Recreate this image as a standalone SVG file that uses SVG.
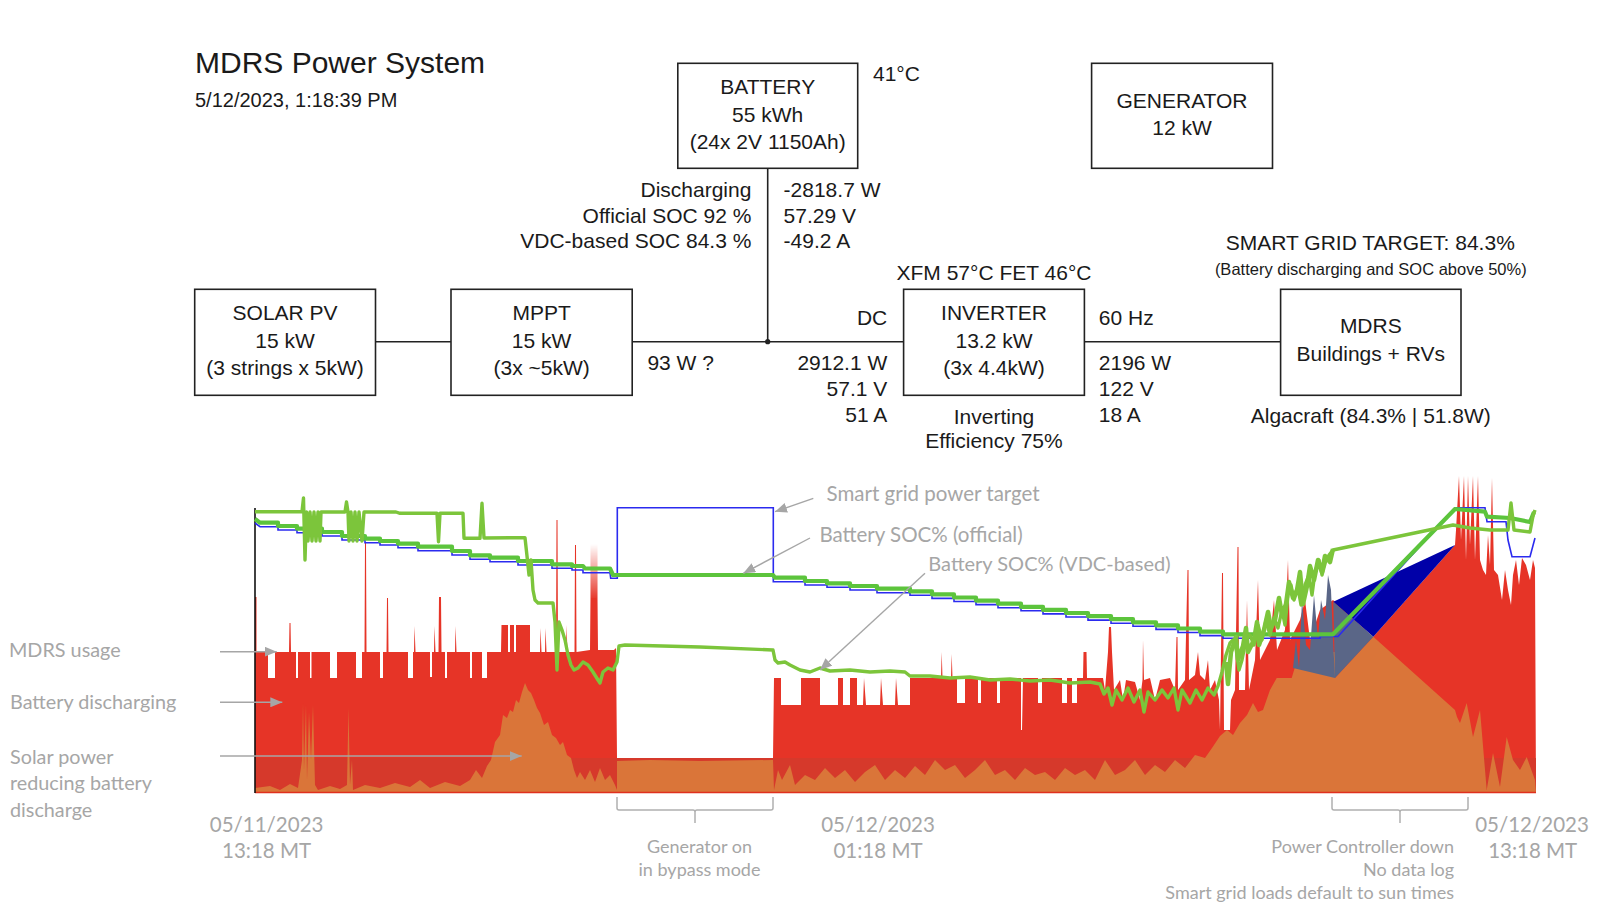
<svg xmlns="http://www.w3.org/2000/svg" width="1600" height="915" viewBox="0 0 1600 915">
<defs>
<style>
.t{font-family:"Liberation Sans",Arial,sans-serif;font-size:21px;fill:#1a1a1a}
.m{text-anchor:middle}
.e{text-anchor:end}
.box{fill:#fff;stroke:#222;stroke-width:1.6}
.wire{stroke:#222;stroke-width:1.6;fill:none}
.g{font-family:Lato,"Open Sans",sans-serif;font-size:20.5px;fill:#a6a6a6}
.gl{font-size:19.8px}
.gs{font-family:Lato,"Open Sans",sans-serif;font-size:18px;fill:#a6a6a6}
.lead{stroke:#a6a6a6;stroke-width:1.4;fill:none}
.brk{stroke:#b0b0b0;stroke-width:1.5;fill:none}
</style>
<marker id="ah" markerUnits="userSpaceOnUse" markerWidth="12" markerHeight="10" refX="12" refY="5" orient="auto">
<path d="M0,0 L12,5 L0,10 z" fill="#a6a6a6"/>
</marker>
</defs>
<rect width="1600" height="915" fill="#fff"/>

<g id="title">
<text class="t" x="195" y="72.5" style="font-size:30px">MDRS Power System</text>
<text class="t" x="195" y="106.5" style="font-size:20px">5/12/2023, 1:18:39 PM</text>
</g>

<g id="connectors">
<line class="wire" x1="375.5" y1="341.7" x2="451" y2="341.7"/>
<line class="wire" x1="632.2" y1="341.7" x2="903.6" y2="341.7"/>
<line class="wire" x1="767.7" y1="168.3" x2="767.7" y2="341.7"/>
<line class="wire" x1="1084.4" y1="341.7" x2="1280.6" y2="341.7"/>
<circle cx="767.7" cy="341.7" r="2.6" fill="#222"/>
</g>

<g id="battery">
<rect class="box" x="677.8" y="63.3" width="179.9" height="105"/>
<text class="t m" x="767.7" y="93.7">BATTERY</text>
<text class="t m" x="767.7" y="121.5">55 kWh</text>
<text class="t m" x="767.7" y="149.3">(24x 2V 1150Ah)</text>
<text class="t" x="873" y="80.7">41°C</text>
<text class="t e" x="751.4" y="197.3">Discharging</text>
<text class="t e" x="751.4" y="222.5">Official SOC 92 %</text>
<text class="t e" x="751.4" y="247.7">VDC-based SOC 84.3 %</text>
<text class="t" x="783.6" y="197.3">-2818.7 W</text>
<text class="t" x="783.6" y="222.5">57.29 V</text>
<text class="t" x="783.6" y="247.7">-49.2 A</text>
</g>

<g id="generator">
<rect class="box" x="1091.6" y="63.3" width="180.9" height="105"/>
<text class="t m" x="1182" y="107.5">GENERATOR</text>
<text class="t m" x="1182" y="134.7">12 kW</text>
</g>

<g id="solar">
<rect class="box" x="194.7" y="289.3" width="180.8" height="106"/>
<text class="t m" x="285.1" y="320.2">SOLAR PV</text>
<text class="t m" x="285.1" y="347.6">15 kW</text>
<text class="t m" x="285.1" y="375.2">(3 strings x 5kW)</text>
</g>

<g id="mppt">
<rect class="box" x="451" y="289.3" width="181.2" height="106"/>
<text class="t m" x="541.6" y="320.2">MPPT</text>
<text class="t m" x="541.6" y="347.6">15 kW</text>
<text class="t m" x="541.6" y="375.2">(3x ~5kW)</text>
<text class="t" x="647.4" y="370">93 W ?</text>
</g>

<g id="inverter">
<rect class="box" x="903.6" y="289.3" width="180.8" height="106"/>
<text class="t m" x="994" y="320.2">INVERTER</text>
<text class="t m" x="994" y="347.6">13.2 kW</text>
<text class="t m" x="994" y="375.2">(3x 4.4kW)</text>
<text class="t m" x="994" y="280">XFM 57°C FET 46°C</text>
<text class="t m" x="994" y="423.5">Inverting</text>
<text class="t m" x="994" y="448.3">Efficiency 75%</text>
<text class="t e" x="887.3" y="325">DC</text>
<text class="t e" x="887.3" y="370">2912.1 W</text>
<text class="t e" x="887.3" y="396">57.1 V</text>
<text class="t e" x="887.3" y="421.7">51 A</text>
<text class="t" x="1098.8" y="325">60 Hz</text>
<text class="t" x="1098.8" y="370">2196 W</text>
<text class="t" x="1098.8" y="396">122 V</text>
<text class="t" x="1098.8" y="421.7">18 A</text>
</g>

<g id="mdrs">
<rect class="box" x="1280.6" y="289.3" width="180.4" height="106"/>
<text class="t m" x="1370.8" y="333.3">MDRS</text>
<text class="t m" x="1370.8" y="360.7">Buildings + RVs</text>
<text class="t m" x="1370.8" y="422.8">Algacraft (84.3% | 51.8W)</text>
<text class="t m" x="1370.3" y="250.2">SMART GRID TARGET: 84.3%</text>
<text class="t m" x="1370.8" y="275" style="font-size:16.5px">(Battery discharging and SOC above 50%)</text>
</g>

<g id="chart">
<path fill="#e63427" d="M255,793 L255,597 L256.5,597 L256.5,652 L268,652 L268,678 L275,678 L275,652 L289,652 L289.5,623 L290.5,623 L291,652 L296,652 L296,678 L298,678 L298,652 L310,652 L310,678 L311.5,678 L311.5,652 L330,652 L330,678 L337,678 L337,652 L356,652 L356,678 L362,678 L362,652 L364.5,652 L365,542 L366,542 L366.5,652 L380,652 L380,678 L383,678 L383,652 L386.5,652 L387,598 L388,598 L388.5,652 L408,652 L408,678 L413,678 L413,652 L414,652 L414.5,626 L415.5,652 L430,652 L430,677 L432,677 L432,652 L434,652 L434.5,626 L435.5,652 L438.5,652 L439,597 L441,597 L441.5,652 L445,652 L445,678 L447,678 L447,652 L455,652 L455.5,626 L456.5,652 L470,652 L470,678 L472,678 L472,652 L482,652 L482,678 L487,678 L487,652 L501,652 L501.5,625 L508,625 L508,652 L510,652 L510,625 L514,625 L514,652 L516,652 L516,625 L530,625 L530,652 L540,652 L540.5,628 L541.5,652 L545,652 L545.5,628 L546.5,652 L556,652 L556.5,520 L557.5,520 L558,652 L566,652 L566.5,625 L567.5,652 L574.5,652 L575,545 L576,545 L576.5,652 L590,650 L591,544 L592,600 L593,544 L594,600 L595,544 L596,600 L597,544 L598,650 L614,650 L616,648 L617,758 L773,758 L774,678 L781,678 L781,705 L801,705 L801,678 L820,678 L820,705 L838,705 L838,678 L843,678 L843,705 L850,705 L850,678 L857,678 L857,705 L863,705 L864,678 L866,705 L880,705 L881,678 L883,705 L895,705 L896,678 L898,705 L910,705 L910,678 L941,678 L941.7,652 L942.5,678 L951,678 L951.7,654 L952.5,678 L957,678 L957,703 L965,703 L965,678 L978,678 L978,703 L981,703 L981,678 L997,678 L997,703 L1000,703 L1000,678 L1021,678 L1021,730 L1022,730 L1023,678 L1038,678 L1038,703 L1042,703 L1042,678 L1062,678 L1062,703 L1067,703 L1067,678 L1072,678 L1072,703 L1077,703 L1077,678 L1083,678 L1083.5,652 L1086.5,652 L1087,678 L1103,678 L1105,690 L1108,652 L1109,627 L1111,627 L1112,652 L1114,690 L1120,680 L1123,700 L1126,680 L1135,682 L1140,700 L1142.5,680 L1143,640 L1144,680 L1150,678 L1155,700 L1160,680 L1170,678 L1175,690 L1176.5,637 L1177.5,637 L1178,690 L1185,680 L1187.5,570 L1188.5,570 L1189,680 L1195,675 L1198,652 L1200,675 L1205,680 L1208,660 L1210,690 L1215,680 L1219,700 L1220,730 L1222,573 L1223,573 L1224,730 L1230,730 L1231,700 L1235,690 L1237.5,547 L1238.5,547 L1239,690 L1245,690 L1247,600 L1249,690 L1255,660 L1258,580 L1260,660 L1270,640 L1274,600 L1277,650 L1285,630 L1288,560 L1290,640 L1300,620 L1305,600 L1310,640 L1320,610 L1333,600 L1373,637 L1455,545 L1456,530 L1459,476 L1461,540 L1464,476 L1466,560 L1468,476 L1470,545 L1473,476 L1475,560 L1478,476 L1480,560 L1483,570 L1486,575 L1488,535 L1490,565 L1492,478 L1494,570 L1498,575 L1502,600 L1505,570 L1508,590 L1511,605 L1513,575 L1516,560 L1519,585 L1522,558 L1526,565 L1530,580 L1533,560 L1535,568 L1536,793 Z"/>
<rect x="255" y="758" width="1281" height="35" fill="#d6392b"/>
<path fill="#da7539" d="M255,793 L255,788 L270,786 L280,790 L290,784 L298,788 L302,760 L303,703 L304,770 L306,705 L307,780 L309,712 L311,760 L313,705 L315,785 L318,790 L330,786 L340,789 L347,785 L348.5,708 L350,785 L352,760 L353,790 L365,785 L380,788 L395,783 L410,787 L420,780 L430,788 L445,782 L460,786 L470,780 L476,770 L482,778 L487,766 L491,760 L495,742 L500,735 L503,715 L507,718 L510,710 L513,712 L516,700 L519,703 L522,692 L525,683 L528,690 L531,693 L534,700 L537,708 L540,713 L544,725 L548,722 L552,735 L556,738 L560,745 L563,742 L567,755 L571,758 L574,770 L577,778 L580,772 L585,780 L590,770 L595,782 L600,768 L605,780 L610,775 L615,785 L617,790 L617,761 L650,760 L700,761 L773,760 L774,790 L778,770 L782,780 L790,765 L795,785 L805,775 L815,780 L825,768 L835,778 L845,770 L855,782 L865,772 L875,765 L885,780 L895,770 L905,778 L915,766 L925,775 L935,760 L945,770 L955,765 L965,778 L975,770 L985,760 L995,775 L1005,770 L1015,780 L1025,768 L1035,775 L1045,772 L1055,780 L1065,768 L1075,775 L1085,770 L1095,780 L1105,760 L1115,775 L1125,770 L1135,760 L1145,775 L1155,765 L1165,772 L1175,760 L1185,768 L1195,755 L1205,758 L1212,748 L1220,736 L1227,730 L1233,735 L1240,723 L1247,715 L1253,703 L1258,712 L1263,710 L1270,690 L1276.7,678 L1291.7,678 L1295,667 L1303,670 L1310,650 L1318,660 L1323,652 L1335,652 L1335,678 L1373.3,636.7 L1455,710 L1457,717 L1460,723 L1466.7,703 L1473,737 L1480,710 L1486.7,790 L1493,753 L1500,787 L1506.7,737 L1513,760 L1520,770 L1526.7,757 L1535,780 L1536,793 Z"/>
<path fill="#0000a8" d="M1333.3,601.7 L1455,545 L1373.3,636.7 Z"/>
<path fill="#5a6687" d="M1333.3,601.7 L1373.3,636.7 L1335,678 L1333,640 L1331,590 L1328,575 L1325,620 L1321,600 L1318,640 L1314,595 L1310,650 L1306,645 L1302,600 L1299,668 L1296,640 L1293,668 L1335,678 Z"/>
<line x1="255" y1="792.5" x2="1536" y2="792.5" stroke="#e0301e" stroke-width="1.5"/>
<line x1="255" y1="508" x2="255" y2="793" stroke="#111" stroke-width="1.6"/>
<path fill="none" stroke="#2b2bef" stroke-width="1.6" d="M255,523 L260,526.7 L278,526.7 L278,530 L297,530 L297,532.7 L322,532.7 L322,536 L342,536 L342,540 L365,540 L365,542.7 L380,542.7 L380,545 L398,545 L398,547.7 L418,547.7 L418,550.7 L452,550.7 L452,555 L470,555 L470,559.3 L490,559.3 L490,561.7 L518,561.7 L518,565 L552,565 L552,568.3 L572,568.3 L572,570 L583,570 L583,572.7 L610,572.7 L610.7,578.3 L617.3,578.3 L617.3,507.7 L773.3,507.7 L773.3,581.7 L805,581.7 L805,585 L827,585 L827,587.3 L850,587.3 L850,590 L877,590 L877,592.7 L910,592.7 L910,595.3 L932,595.3 L932,598.4 L954,598.4 L954,601.5 L976,601.5 L976,604.6 L998,604.6 L998,607.7 L1021,607.7 L1021,610.8 L1043,610.8 L1043,613.9 L1066,613.9 L1066,617 L1088,617 L1088,620.1 L1111,620.1 L1111,623.2 L1133,623.2 L1133,626.3 L1156,626.3 L1156,629.4 L1178,629.4 L1178,632.5 L1200,632.5 L1200,635.6 L1223,635.6 L1223,638.3 L1320,638.3 L1320,636.5 L1338,636.5 L1455,507.7 L1485,507.7 L1487,521.7 L1506,521.7 L1508,540 L1512,556.7 L1530,556.7 L1535,538"/>
<path fill="none" stroke="#5cc43c" stroke-width="4.2" stroke-linejoin="round" d="M255,519 L260,522.7 L278,522.7 L278,526 L297,526 L297,528.7 L322,528.7 L322,532 L342,532 L342,536 L365,536 L365,538.7 L380,538.7 L380,541 L398,541 L398,543.7 L418,543.7 L418,546.7 L452,546.7 L452,551 L470,551 L470,555.3 L490,555.3 L490,557.7 L518,557.7 L518,561 L552,561 L552,564.3 L572,564.3 L572,566 L583,566 L585,568.5 L610,568.5 L613,575 L773,575 L775,577.7 L805,577.7 L805,581 L827,581 L827,583.3 L850,583.3 L850,586 L877,586 L877,588.7 L910,588.7 L910,591.3 L932,591.3 L932,594.4 L954,594.4 L954,597.5 L976,597.5 L976,600.6 L998,600.6 L998,603.7 L1021,603.7 L1021,606.8 L1043,606.8 L1043,609.9 L1066,609.9 L1066,613 L1088,613 L1088,616.1 L1111,616.1 L1111,619.2 L1133,619.2 L1133,622.3 L1156,622.3 L1156,625.4 L1178,625.4 L1178,628.5 L1200,628.5 L1200,631.6 L1223,631.6 L1223,634.3 L1333,634.3 L1455,509 L1485,511.7 L1487,516.7 L1510,518 L1530,522 L1534,512"/>
<path fill="none" stroke="#7cc53b" stroke-width="3.4" stroke-linejoin="round" d="M255,511.7 L302,511.7 L303.5,498 L305,560 L306.5,512 L308,541 L310,512 L312,541 L314,512 L316,541 L318,512 L320,541 L321,512 L345,512 L346.5,502 L348,512 L349,541 L351,512 L353,541 L355,512 L357,541 L359,512 L362,541 L364,512 L372,512 L396,512 L400,513.3 L437,513.3 L438.5,541.7 L440,513.3 L463,513.3 L464,538.3 L480,538.3 L482,503.3 L484,538 L525,537.7 L527,556 L529,575 L531,560 L533,590 L535,600 L538,603 L553,603 L555,622 L557,670 L559,622 L562,630 L565,640 L568,655 L571,665 L574,670 L578,668 L583,662 L588,665 L593,672 L598,680 L600,683 L603,672 L608,668 L613,670 L617,662 L619,646 L625,645 L700,647 L773,650 L775,660 L778,663 L785,662 L790,665 L800,670 L810,672 L820,668 L830,671 L850,670 L870,672 L890,671 L905,672 L910,676 L930,676 L950,678 L970,677 L990,680 L1010,679 L1030,681 L1050,680 L1070,683 L1090,682 L1100,684 L1104,694 L1108,688 L1112,705 L1116,690 L1122,700 L1128,688 L1134,702 L1140,690 L1144,712 L1148,692 L1155,700 L1162,690 L1168,698 L1174,688 L1178,710 L1182,690 L1190,703 L1196,690 L1202,700 L1208,688 L1214,695 L1218,686 L1222,672 L1226,655 L1230,643 L1233,640 L1236,648 L1239,670 L1242,660 L1246,640 L1250,635 L1254,645 L1258,625 L1262,640 L1266,620 L1270,635 L1274,618 L1278,628 L1282,610 L1285,625 L1288,595 L1291,585 L1294,600 L1298,588 L1301,605 L1305,585 L1309,575 L1312,595 L1315,572 L1319,560 L1322,575 L1326,560 L1329,555 L1333,550 L1453,525 L1470,528 L1490,530 L1508,530 L1511,503 L1514,530 L1530,532 L1533,516 L1535,510"/>
<path fill="none" stroke="#7cc53b" stroke-width="4.5" stroke-linejoin="round" d="M1226,662 L1228,684 L1231,652 L1236,637 L1238,660 L1243,646 L1246,628 L1248,652 L1254,640 L1257,622 L1259,645 L1264,630 L1268,612 L1271,628 L1275,620 L1279,598 L1282,615 L1286,604 L1289,582 L1293,598 L1297,590 L1300,572 L1303,604 L1307,586 L1310,566 L1314,580 L1318,560 L1322,572 L1325,556 L1330,562 L1333,549"/>

<line class="lead" x1="220" y1="651.7" x2="276.7" y2="651.7" marker-end="url(#ah)"/>
<line class="lead" x1="220" y1="702.3" x2="282.3" y2="702.3" marker-end="url(#ah)"/>
<line class="lead" x1="220" y1="756" x2="521.7" y2="756" marker-end="url(#ah)"/>
<line class="lead" x1="813.3" y1="498.3" x2="775" y2="511.7" marker-end="url(#ah)"/>
<line class="lead" x1="810" y1="538" x2="743.3" y2="573.3" marker-end="url(#ah)"/>
<line class="lead" x1="925" y1="573.3" x2="820" y2="670" marker-end="url(#ah)"/>

<path class="brk" d="M617,797 L617,808 Q617,810 619,810 L693,810 Q695,810 695,812 L695,823 M695,812 Q695,810 697,810 L771,810 Q773,810 773,808 L773,797"/>
<path class="brk" d="M1332,797 L1332,808 Q1332,810 1334,810 L1398,810 Q1400,810 1400,812 L1400,823 M1400,812 Q1400,810 1402,810 L1466,810 Q1468,810 1468,808 L1468,797"/>

<text class="g" x="826.5" y="500.7">Smart grid power target</text>
<text class="g" x="819.4" y="541.7">Battery SOC% (official)</text>
<text class="g" x="928.3" y="571" style="font-size:20px">Battery SOC% (VDC-based)</text>
<text class="g gl" x="9" y="656.7">MDRS usage</text>
<text class="g gl" x="10" y="709.3">Battery discharging</text>
<text class="g gl" x="10" y="764">Solar power</text>
<text class="g gl" x="10" y="790.3">reducing battery</text>
<text class="g gl" x="10" y="816.7">discharge</text>
<text class="g m" x="266.6" y="831.7">05/11/2023</text>
<text class="g m" x="266.6" y="858.3">13:18 MT</text>
<text class="g m" x="878" y="832.3">05/12/2023</text>
<text class="g m" x="878" y="858.3">01:18 MT</text>
<text class="g m" x="1532" y="832.3">05/12/2023</text>
<text class="g m" x="1532.7" y="858.3">13:18 MT</text>
<text class="gs m" x="699.5" y="853.3">Generator on</text>
<text class="gs m" x="699.5" y="876">in bypass mode</text>
<text class="gs e" x="1454" y="853.3">Power Controller down</text>
<text class="gs e" x="1454" y="876">No data log</text>
<text class="gs e" x="1454" y="898.5">Smart grid loads default to sun times</text>
</g>
</svg>
